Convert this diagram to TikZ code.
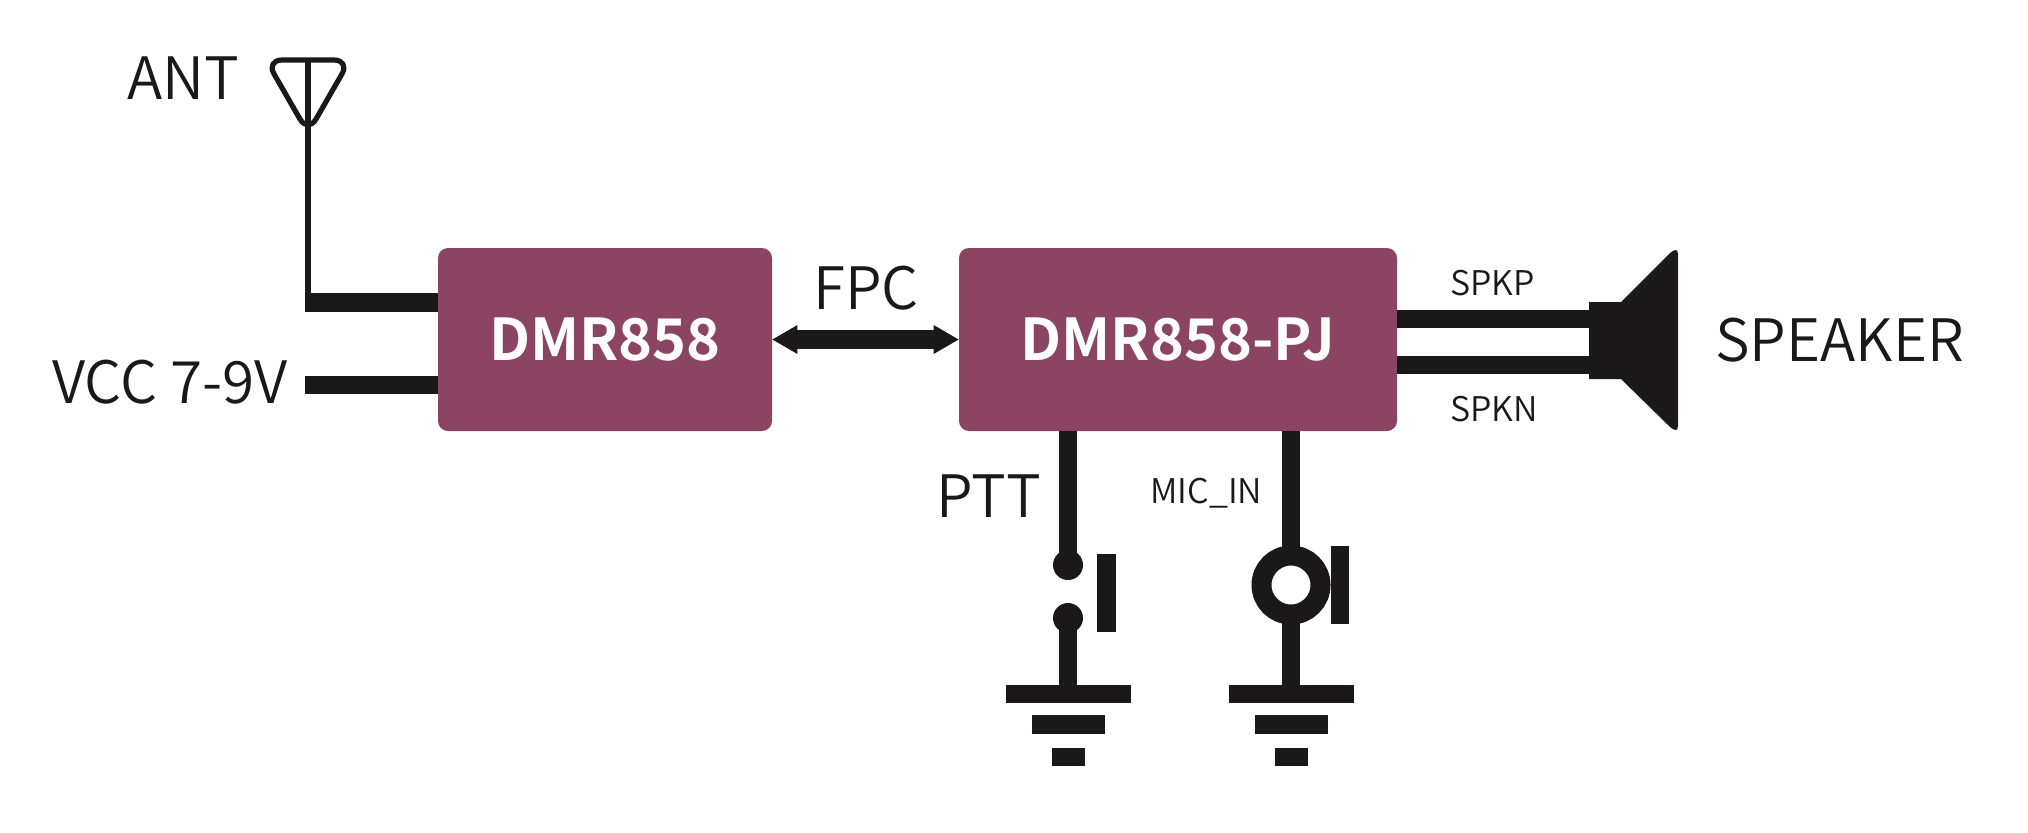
\documentclass[tikz,border=0pt]{standalone}
\usepackage{fontspec}
\setmainfont{Noto Sans CJK SC}[UprightFont=* DemiLight,BoldFont=* Bold]
\usetikzlibrary{calc}
\definecolor{ink}{HTML}{1A1818}
\definecolor{plum}{HTML}{8B4562}
\tikzset{
  chip/.style={fill=plum,rounded corners=5pt,minimum height=91.5pt,inner sep=0pt,text=white,font=\fontsize{28.8}{32}\selectfont\bfseries},
  wire/.style={draw=ink,line width=9.2pt},
  thin wire/.style={draw=ink,line width=2.6pt},
  lab/.style={text=ink,inner sep=0pt,font=\fontsize{29.2}{32}\selectfont},
  small lab/.style={text=ink,inner sep=0pt,font=\fontsize{17}{20}\selectfont},
  bar/.style={fill=ink,draw=none,inner sep=0pt,minimum height=9.2pt},
  dot/.style={circle,fill=ink,draw=none,inner sep=0pt,minimum size=15pt},
}
\begin{document}
\begin{tikzpicture}[x=0.5pt,y=-0.5pt]
\useasboundingbox (0,0) rectangle (2028,832);
\node[chip,minimum width=167pt] (dmr) at (605,339.5) {DMR858};
\node[chip,minimum width=219pt] (pj) at (1178,339.5) {DMR858-PJ};

% antenna
\coordinate (anttop) at (308,60);
\coordinate (antfoot) at (308,302.5);
\coordinate (vccin) at (305,385);
\coordinate (antin) at (305,302.5);
\draw[thin wire,rounded corners=8pt,line join=round] (266,60) -- (350,60) -- (308,133) -- cycle;
\draw[thin wire] (anttop) -- (antfoot);
\draw[wire] (antin) -- (antin -| dmr.west);
\draw[wire] (vccin) -- (vccin -| dmr.west);

% FPC arrow
\draw[wire] ([xshift=12pt]dmr.east) -- ([xshift=-12pt]pj.west);
\fill[ink] (dmr.east) -- ++(25,-14.5) -- ++(0,29) -- cycle;
\fill[ink] (pj.west) -- ++(-25,-14.5) -- ++(0,29) -- cycle;

% speaker
\coordinate (spk) at (1589,339.5);
\draw[wire] (pj.east |- 0,319) -- (spk |- 0,319);
\draw[wire] (pj.east |- 0,365) -- (spk |- 0,365);
\fill[ink] (1589,302) -- (1621,302) -- (1668,255) .. controls (1674,249) and (1678,248) .. (1678,254) -- (1678,426) .. controls (1678,432) and (1674,431) .. (1668,425) -- (1621,379) -- (1589,379) -- cycle;

% PTT
\node[dot] (ptta) at (1068,565) {};
\node[dot] (pttb) at (1068,618) {};
\node[bar,minimum width=62.5pt] (g1a) at (1068,694) {};
\node[bar,minimum width=36.5pt] (g1b) at (1068,724.5) {};
\node[bar,minimum width=16.5pt] (g1c) at (1068,757) {};
\draw[wire] (ptta |- pj.south) -- (ptta.center);
\draw[wire] (pttb.center) -- (g1a.center);
\fill[ink] (1097,554) rectangle (1116,632);

% MIC
\node[circle,draw=ink,line width=10pt,inner sep=0pt,minimum size=29.5pt] (mic) at (1291,585) {};
\node[bar,minimum width=62.5pt] (g2a) at (1291,694) {};
\node[bar,minimum width=36.5pt] (g2b) at (1291,724.5) {};
\node[bar,minimum width=16.5pt] (g2c) at (1291,757) {};
\draw[wire] (mic |- pj.south) -- ([yshift=-3pt]mic.north);
\draw[wire] ([yshift=3pt]mic.south) -- (g2a.center);
\fill[ink] (1331,546) rectangle (1349,624);

% labels
\node[lab,anchor=base west] (lant) at (127,99) {ANT};
\node[lab,anchor=base west] (lvcc) at (52,403) {VCC 7-9V};
\node[lab,anchor=base west] (lfpc) at (813,309) {FPC};
\node[lab,anchor=base west] (lptt) at (936,517) {PTT};
\node[small lab,anchor=base west] (lmic) at (1150,503) {MIC\_IN};
\node[small lab,anchor=base west] (lspkp) at (1450,295) {SPKP};
\node[small lab,anchor=base west] (lspkn) at (1450,421) {SPKN};
\node[lab,anchor=base west] (lspk) at (1715,361) {SPEAKER};
\end{tikzpicture}
\end{document}
